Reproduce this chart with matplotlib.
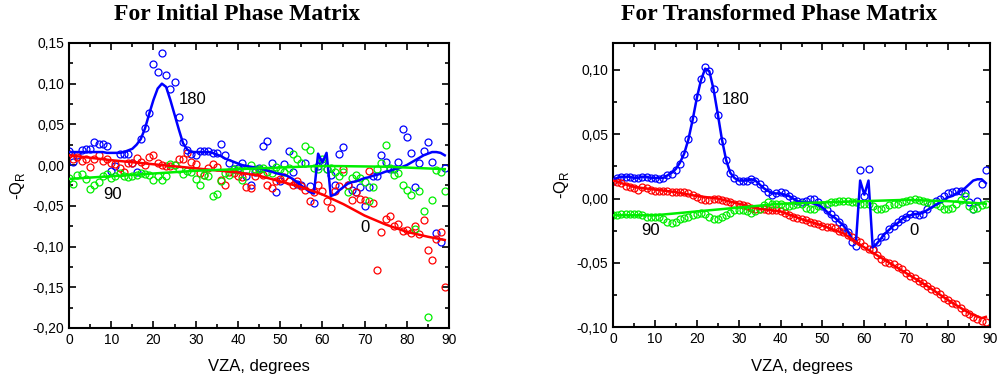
import matplotlib
matplotlib.use("Agg")
import matplotlib.pyplot as plt
import numpy as np
from matplotlib.ticker import MultipleLocator, FuncFormatter

# VZA grid, one point per degree
vza = list(range(0, 90))

# ---- Initial phase matrix (left) ----
init_180_pts = [0.017, 0.004, 0.012, 0.018, 0.020, 0.020, 0.028, 0.026, 0.026, 0.023,
                -0.007, -0.001, 0.013, 0.013, 0.013, 0.002, -0.008, 0.032, 0.046, 0.064,
                0.124, 0.114, 0.138, 0.111, 0.094, 0.102, 0.059, 0.028, 0.019, 0.013,
                0.012, 0.017, 0.017, 0.017, 0.015, 0.015, 0.026, 0.012, 0.002, -0.005,
                -0.003, 0.003, -0.014, -0.025, -0.008, -0.004, 0.023, 0.029, 0.003, -0.033,
                -0.020, 0.001, 0.017, -0.008, -0.023, -0.024, 0.003, -0.026, -0.046, -0.001,
                0.004, -0.005, -0.012, -0.024, 0.014, 0.022, -0.024, -0.030, -0.033, -0.027,
                -0.050, -0.027, -0.014, -0.014, 0.012, 0.004, -0.005, -0.005, 0.004, 0.044,
                0.034, 0.015, -0.027, 0.003, 0.017, 0.028, 0.004, -0.084, -0.095, -0.003]
init_0_pts = [0.013, 0.008, 0.010, 0.005, 0.007, -0.002, 0.008, 0.012, 0.005, 0.008,
              0.003, 0.001, -0.003, -0.008, 0.003, 0.002, 0.009, 0.004, 0.000, 0.010,
              0.012, 0.002, 0.000, -0.001, -0.001, 0.000, 0.007, 0.007, 0.015, 0.004,
              0.001, -0.010, -0.012, -0.004, 0.001, -0.002, -0.018, -0.025, -0.008, -0.010,
              -0.013, -0.015, -0.027, -0.028, -0.014, -0.006, -0.012, -0.024, -0.028, -0.019,
              -0.017, -0.015, -0.020, -0.024, -0.020, -0.026, -0.030, -0.044, -0.033, -0.024,
              -0.032, -0.044, -0.053, -0.032, -0.026, -0.005, -0.025, -0.043, -0.033, -0.042,
              -0.043, -0.007, -0.047, -0.129, -0.082, -0.066, -0.063, -0.075, -0.072, -0.081,
              -0.080, -0.083, -0.075, -0.085, -0.068, -0.104, -0.117, -0.091, -0.082, -0.150]
init_90_pts = [-0.016, -0.023, -0.012, -0.011, -0.017, -0.029, -0.024, -0.021, -0.013, -0.011,
               -0.016, -0.014, -0.010, -0.014, -0.015, -0.013, -0.012, -0.010, -0.011, -0.012,
               -0.018, -0.013, -0.018, -0.014, 0.001, 0.000, -0.005, -0.011, -0.007, -0.008,
               -0.017, -0.024, -0.012, -0.013, -0.038, -0.036, -0.019, -0.010, -0.012, -0.005,
               -0.006, -0.018, -0.006, 0.000, -0.005, -0.005, -0.004, -0.008, -0.010, -0.002,
               -0.005, -0.008, -0.004, 0.013, 0.007, 0.003, 0.024, 0.018, -0.003, -0.005,
               0.007, -0.005, -0.003, -0.009, -0.014, -0.008, -0.033, -0.016, -0.012, -0.016,
               -0.021, -0.044, -0.027, -0.005, 0.003, 0.025, -0.004, -0.012, -0.010, -0.025,
               -0.030, -0.037, -0.079, -0.032, -0.057, -0.186, -0.043, -0.006, -0.009, -0.032]

init_180_line = [0.016, 0.016, 0.016, 0.016, 0.016, 0.016, 0.016, 0.016, 0.016, 0.015,
                 0.015, 0.015, 0.015, 0.016, 0.018, 0.020, 0.025, 0.032, 0.045, 0.063,
                 0.080, 0.094, 0.100, 0.096, 0.080, 0.062, 0.044, 0.027, 0.019, 0.016,
                 0.016, 0.016, 0.016, 0.016, 0.015, 0.013, 0.011, 0.008, 0.006, 0.004,
                 0.002, 0.000, -0.001, -0.002, -0.003, -0.004, -0.005, -0.007, -0.008, -0.010,
                 -0.011, -0.012, -0.014, -0.017, -0.021, -0.025, -0.029, -0.033, -0.035, 0.014,
                 0.003, 0.015, -0.038, -0.036, -0.031, -0.027, -0.023, -0.021, -0.020, -0.018,
                 -0.016, -0.015, -0.013, -0.012, -0.010, -0.008, -0.007, -0.005, -0.004, -0.002,
                 0.000, 0.003, 0.006, 0.009, 0.012, 0.014, 0.016, 0.016, 0.015, 0.012]
init_0_line_x = [0, 10, 20, 30, 40, 45, 50, 55, 60, 65, 70, 75, 80, 85, 89]
init_0_line = [0.012, 0.006, 0.001, -0.004, -0.009, -0.013, -0.020, -0.027, -0.036,
               -0.048, -0.062, -0.073, -0.082, -0.088, -0.092]
init_90_line_x = [0, 15, 30, 45, 60, 75, 89]
init_90_line = [-0.017, -0.012, -0.007, -0.004, -0.001, -0.002, -0.005]

# ---- Transformed phase matrix (right) ----
tr_180_pts = [0.014, 0.016, 0.017, 0.017, 0.017, 0.016, 0.016, 0.017, 0.017, 0.016,
              0.016, 0.015, 0.016, 0.018, 0.019, 0.022, 0.027, 0.035, 0.046, 0.062,
              0.079, 0.093, 0.102, 0.099, 0.085, 0.065, 0.045, 0.030, 0.020, 0.016,
              0.014, 0.014, 0.014, 0.015, 0.014, 0.011, 0.008, 0.005, 0.003, 0.004,
              0.005, 0.004, 0.002, 0.000, -0.002, -0.003, -0.002, 0.000, 0.000, -0.003,
              -0.006, -0.009, -0.012, -0.015, -0.018, -0.022, -0.026, -0.034, -0.037, 0.022,
              0.002, 0.023, -0.039, -0.034, -0.030, -0.029, -0.024, -0.021, -0.018, -0.016,
              -0.014, -0.012, -0.012, -0.013, -0.012, -0.008, -0.004, -0.002, 0.000, 0.002,
              0.004, 0.005, 0.006, 0.006, 0.004, -0.003, -0.008, -0.002, 0.011, 0.022]
tr_0_pts = [0.014, 0.013, 0.012, 0.010, 0.009, 0.008, 0.007, 0.009, 0.008, 0.007,
            0.006, 0.006, 0.006, 0.006, 0.005, 0.005, 0.005, 0.005, 0.004, 0.003,
            0.001, 0.000, -0.001, -0.001, 0.000, 0.000, -0.001, -0.002, -0.003, -0.004,
            -0.004, -0.005, -0.006, -0.007, -0.008, -0.008, -0.008, -0.009, -0.009, -0.009,
            -0.010, -0.011, -0.013, -0.014, -0.015, -0.016, -0.017, -0.018, -0.019, -0.020,
            -0.021, -0.022, -0.022, -0.023, -0.025, -0.026, -0.028, -0.030, -0.032, -0.034,
            -0.037, -0.039, -0.040, -0.044, -0.047, -0.049, -0.050, -0.051, -0.053, -0.055,
            -0.058, -0.060, -0.062, -0.064, -0.066, -0.068, -0.070, -0.072, -0.074, -0.077,
            -0.079, -0.081, -0.082, -0.085, -0.088, -0.090, -0.092, -0.094, -0.095, -0.096]
tr_90_pts = [-0.013, -0.013, -0.012, -0.012, -0.012, -0.012, -0.012, -0.013, -0.014, -0.014,
             -0.014, -0.014, -0.016, -0.018, -0.019, -0.018, -0.016, -0.015, -0.014, -0.013,
             -0.012, -0.011, -0.012, -0.014, -0.016, -0.016, -0.014, -0.013, -0.011, -0.009,
             -0.009, -0.009, -0.010, -0.011, -0.010, -0.008, -0.005, -0.003, -0.004, -0.004,
             -0.004, -0.006, -0.006, -0.005, -0.004, -0.004, -0.007, -0.008, -0.008, -0.006,
             -0.005, -0.004, -0.003, -0.003, -0.002, -0.002, -0.002, -0.003, -0.003, -0.004,
             -0.004, -0.004, -0.006, -0.008, -0.008, -0.007, -0.005, -0.004, -0.004, -0.003,
             -0.002, -0.001, 0.000, -0.001, -0.002, -0.003, -0.004, -0.004, -0.006, -0.008,
             -0.008, -0.007, -0.004, -0.001, 0.002, -0.006, -0.008, -0.007, -0.005, -0.004]

tr_180_line = [0.015, 0.016, 0.017, 0.017, 0.017, 0.016, 0.016, 0.017, 0.017, 0.016,
               0.016, 0.016, 0.016, 0.018, 0.020, 0.023, 0.028, 0.035, 0.046, 0.061,
               0.078, 0.092, 0.101, 0.099, 0.085, 0.066, 0.046, 0.030, 0.020, 0.016,
               0.014, 0.014, 0.014, 0.015, 0.014, 0.011, 0.008, 0.006, 0.004, 0.004,
               0.004, 0.003, 0.002, 0.000, -0.002, -0.003, -0.003, -0.003, -0.004, -0.005,
               -0.007, -0.010, -0.013, -0.015, -0.018, -0.021, -0.025, -0.031, -0.034, 0.014,
               0.003, 0.014, -0.038, -0.035, -0.031, -0.027, -0.024, -0.021, -0.019, -0.016,
               -0.014, -0.013, -0.012, -0.012, -0.011, -0.009, -0.007, -0.005, -0.003, -0.001,
               0.001, 0.002, 0.004, 0.006, 0.008, 0.011, 0.014, 0.015, 0.015, 0.012]
tr_0_line_x = [0, 5, 10, 15, 20, 25, 30, 35, 40, 45, 50, 55, 60, 65, 70, 75, 80, 85, 88, 89]
tr_0_line = [0.014, 0.009, 0.007, 0.005, 0.002, 0.000, -0.004, -0.008, -0.010, -0.016,
             -0.021, -0.027, -0.038, -0.048, -0.058, -0.068, -0.079, -0.089, -0.093, -0.092]
tr_90_line_x = [0, 10, 20, 30, 40, 50, 60, 70, 80, 89]
tr_90_line = [-0.013, -0.013, -0.010, -0.007, -0.004, -0.003, -0.002, -0.001, -0.002, -0.004]

BLUE = '#0000ff'
RED = '#ff0000'
GREEN = '#00ee00'


def comma_fmt(v, pos):
    return f"{v:.2f}".replace('.', ',')


def draw_panel(ax, pts, lines, ylim, labels):
    for (y, c) in pts:
        ax.plot(vza, y, 'o', mfc='none', mec=c, ms=5, mew=0.9, zorder=2)
    for (x, y, c) in lines:
        ax.plot(x, y, '-', color=c, lw=1.8, zorder=3)

    ax.set_xlim(0, 90)
    ax.set_ylim(*ylim)
    ax.xaxis.set_major_locator(MultipleLocator(10))
    ax.xaxis.set_minor_locator(MultipleLocator(5))
    ax.yaxis.set_major_locator(MultipleLocator(0.05))
    ax.yaxis.set_minor_locator(MultipleLocator(0.025))
    ax.yaxis.set_major_formatter(FuncFormatter(comma_fmt))
    ax.tick_params(which='both', direction='in', top=True, right=True,
                   labelsize=10, width=1.2)
    ax.tick_params(which='major', length=5)
    ax.tick_params(which='minor', length=3)
    for s in ax.spines.values():
        s.set_linewidth(1.5)
    ax.set_xlabel('VZA, degrees', fontsize=12, labelpad=9)
    ax.set_ylabel('-Q$_\\mathregular{R}$', fontsize=12)
    for (txt, x, y) in labels:
        ax.text(x, y, txt, fontsize=12, ha='center', va='center')


plt.rcParams['font.family'] = ['Liberation Sans', 'DejaVu Sans']

fig = plt.figure(figsize=(10, 3.8), dpi=100)
ax1 = fig.add_axes([0.069, 0.137, 0.380, 0.750])
ax2 = fig.add_axes([0.613, 0.139, 0.377, 0.748])

draw_panel(ax1,
           [(init_180_pts, BLUE), (init_0_pts, RED), (init_90_pts, GREEN)],
           [(vza, init_180_line, BLUE), (init_0_line_x, init_0_line, RED),
            (init_90_line_x, init_90_line, GREEN)],
           (-0.20, 0.15),
           [('180', 29.3, 0.080), ('90', 10.4, -0.036), ('0', 70.0, -0.077)])
draw_panel(ax2,
           [(tr_180_pts, BLUE), (tr_0_pts, RED), (tr_90_pts, GREEN)],
           [(vza, tr_180_line, BLUE), (tr_0_line_x, tr_0_line, RED),
            (tr_90_line_x, tr_90_line, GREEN)],
           (-0.10, 0.121),
           [('180', 29.2, 0.077), ('90', 8.9, -0.025), ('0', 71.9, -0.025)])

fig.text(0.237, 0.962, 'For Initial Phase Matrix', family='Liberation Serif',
         weight='bold', fontsize=17, ha='center', va='center')
fig.text(0.779, 0.962, 'For Transformed Phase Matrix', family='Liberation Serif',
         weight='bold', fontsize=17, ha='center', va='center')

fig.savefig('out.png', dpi=100)
